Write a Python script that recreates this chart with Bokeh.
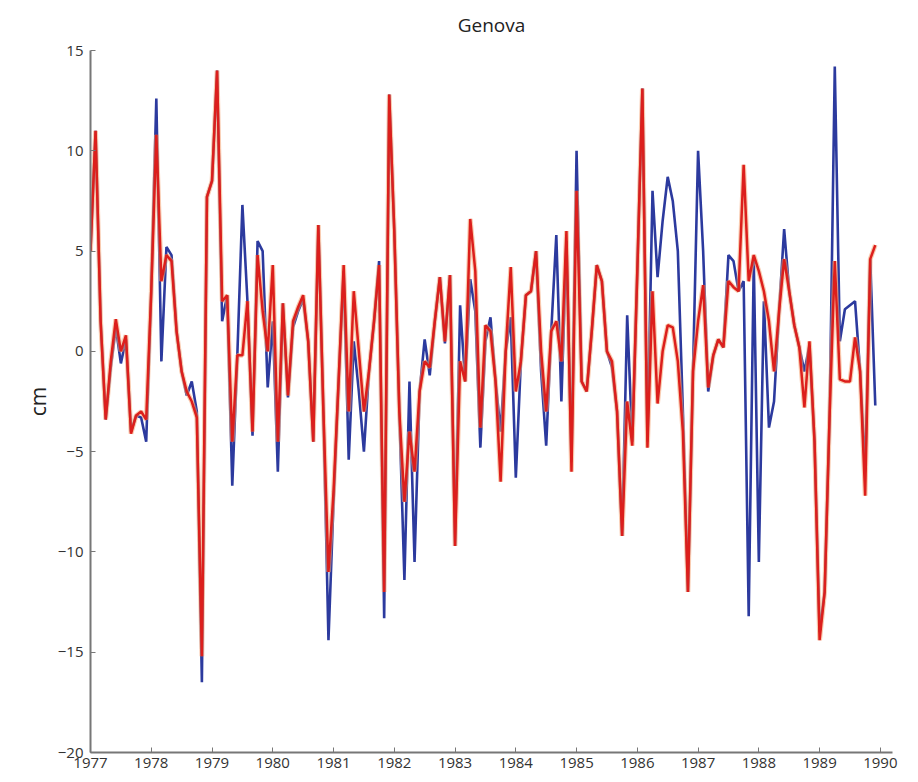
from bokeh.plotting import figure
from bokeh.models import FixedTicker, Range1d
from bokeh.embed import file_html
from bokeh.resources import INLINE

start_year = 1977

# monthly sea-level anomalies (cm), Jan 1977 .. Dec 1989
red_series = [
    5, 11, 1.5, -3.4, -0.5, 1.6, 0.0, 0.8, -4.1, -3.2, -3.0, -3.4,          # 1977
    3.0, 10.8, 3.5, 4.8, 4.5, 1.0, -1.0, -2.0, -2.5, -3.3, -15.2, 7.7,      # 1978
    8.5, 14.0, 2.5, 2.8, -4.5, -0.2, -0.2, 2.5, -4.0, 4.8, 2.0, 0.0,        # 1979
    4.3, -4.5, 2.4, -2.2, 1.5, 2.2, 2.8, 0.5, -4.5, 6.3, -3.0, -11.0,       # 1980
    -7.0, -1.5, 4.3, -3.0, 3.0, 0.0, -3.0, -1.0, 1.5, 4.3, -12.0, 12.8,     # 1981
    6.0, -3.0, -7.5, -4.0, -6.0, -2.0, -0.5, -0.8, 1.5, 3.7, 0.5, 3.8,      # 1982
    -9.7, -0.5, -1.5, 6.6, 4.0, -3.8, 1.3, 1.0, -1.5, -6.5, 0.0, 4.2,       # 1983
    -2.0, -0.5, 2.8, 3.0, 5.0, 0.0, -3.0, 1.0, 1.5, -0.5, 6.0, -6.0,        # 1984
    8.0, -1.5, -2.0, 1.0, 4.3, 3.5, 0.0, -0.5, -3.0, -9.2, -2.5, -4.7,      # 1985
    4.0, 13.1, -4.8, 3.0, -2.6, 0.0, 1.3, 1.2, -0.5, -4.0, -12.0, -1.0,     # 1986
    1.5, 3.3, -1.8, -0.2, 0.6, 0.2, 3.5, 3.2, 3.0, 9.3, 3.5, 4.8,           # 1987
    4.0, 3.0, 1.5, -1.0, 2.0, 4.6, 3.0, 1.3, 0.2, -2.8, 0.5, -4.5,          # 1988
    -14.4, -12.0, -3.0, 4.5, -1.4, -1.5, -1.5, 0.7, -1.0, -7.2, 4.6, 5.3,   # 1989
]
blue_series = [
    5, 11, 1.5, -3.4, -0.8, 1.2, -0.6, 0.6, -4.0, -3.2, -3.3, -4.5,         # 1977
    3.0, 12.6, -0.5, 5.2, 4.8, 1.0, -1.0, -2.2, -1.5, -3.0, -16.5, 7.7,     # 1978
    8.5, 14.0, 1.5, 2.8, -6.7, -0.2, 7.3, 2.5, -4.2, 5.5, 5.0, -1.8,        # 1979
    1.5, -6.0, 2.4, -2.3, 1.2, 2.0, 2.6, 0.5, -4.5, 6.3, -3.0, -14.4,       # 1980
    -7.5, -1.5, 4.0, -5.4, 0.5, -2.0, -5.0, -1.0, 1.5, 4.5, -13.3, 12.8,    # 1981
    6.0, -3.0, -11.4, -1.5, -10.5, -2.0, 0.6, -1.2, 1.5, 3.7, 0.4, 3.8,     # 1982
    -9.7, 2.3, -1.5, 3.6, 2.0, -4.8, 0.5, 1.7, -1.5, -4.0, 0.0, 1.7,        # 1983
    -6.3, -0.5, 2.8, 3.0, 5.0, -1.0, -4.7, 1.0, 5.8, -2.5, 5.5, -5.5,       # 1984
    10.0, -1.5, -2.0, 1.0, 4.3, 3.5, 0.0, -0.8, -3.0, -9.2, 1.8, -4.5,      # 1985
    4.0, 13.1, -4.5, 8.0, 3.7, 6.5, 8.7, 7.5, 5.0, -3.0, -12.0, -1.0,       # 1986
    10.0, 5.0, -2.0, -0.2, 0.6, 0.2, 4.8, 4.5, 3.0, 3.5, -13.2, 4.5,        # 1987
    -10.5, 2.5, -3.8, -2.5, 2.0, 6.1, 3.0, 1.3, 0.2, -1.0, 0.3, -4.5,       # 1988
    -14.0, -12.0, -3.0, 14.2, 0.5, 2.1, 2.3, 2.5, -1.0, -6.0, 4.6, -2.7,    # 1989
]
year_ticks = list(range(1977, 1991))
cm_ticks = [-20, -15, -10, -5, 0, 5, 10, 15]

months = [start_year + i / 12.0 for i in range(len(red_series))]

p = figure(width=900, height=772, output_backend="svg", toolbar_location=None,
           x_range=Range1d(1977, 1990.2), y_range=Range1d(-20, 15),
           title="Genova", min_border_left=90, min_border_right=8,
           min_border_bottom=20, min_border_top=0)
p.title.align = "center"
p.title.vertical_align = "top"
p.title.text_font = "Open Sans"
p.title.text_font_size = "19px"
p.title.text_font_style = "normal"
p.title.text_color = "#222222"
p.title.offset = 0
p.title.standoff = 22

p.xgrid.visible = False
p.ygrid.visible = False
p.outline_line_color = None

p.xaxis.ticker = FixedTicker(ticks=year_ticks)
p.yaxis.ticker = FixedTicker(ticks=cm_ticks)
p.yaxis.axis_label = "cm"
p.yaxis.axis_label_text_font = "Open Sans"
p.yaxis.axis_label_text_font_size = "21px"
p.yaxis.axis_label_text_font_style = "normal"
p.yaxis.axis_label_text_color = "#222222"
p.yaxis.axis_label_standoff = 3

for ax in (p.xaxis, p.yaxis):
    ax.major_tick_in = 5
    ax.major_tick_out = 0
    ax.minor_tick_line_color = None
    ax.axis_line_color = "#777777"
    ax.axis_line_width = 2
    ax.major_tick_line_color = "#777777"
    ax.major_label_text_font = "Open Sans"
    ax.major_label_text_font_size = "15px"
    ax.major_label_text_color = "#333333"
p.xaxis.major_label_standoff = 5
p.yaxis.major_label_standoff = 7

p.line(months, blue_series, line_color="#2c3a9e", line_width=2.6)
p.line(months, red_series, line_color="#f4a070", line_width=4.8, line_alpha=0.55)
p.line(months, red_series, line_color="#dc1f1c", line_width=2.5)

open("out.html", "w").write(file_html(p, INLINE))
